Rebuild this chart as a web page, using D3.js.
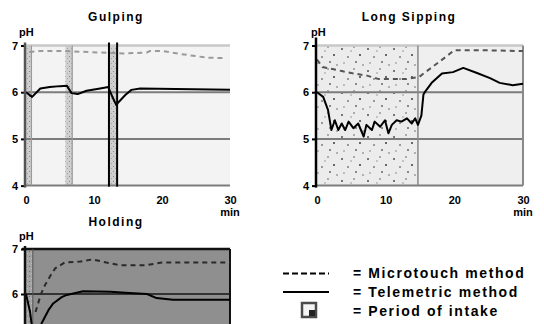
<!DOCTYPE html>
<html><head><meta charset="utf-8">
<script src="https://cdn.jsdelivr.net/npm/d3@7"></script>
<style>
body{margin:0;background:#fff;}
svg{display:block;font-family:"Liberation Sans",Arial,sans-serif;font-weight:bold;}
</style></head><body>
<svg id="c" width="544" height="324"></svg>
<script>
// ---------- data ----------
const xTicks = [0, 10, 20, 30];
const yTicks = [4, 5, 6, 7];
const panelTitles = ["Gulping", "Long Sipping", "Holding"];
const legendLabels = ["= Microtouch method", "= Telemetric method", "= Period of intake"];

const gulpingTelemetric = [[0,6.0],[0.9,5.9],[2.1,6.08],[3.5,6.11],[5.0,6.13],[6.0,6.14],[6.7,5.98],[7.6,5.96],[8.9,6.03],[10.9,6.08],[12.1,6.11],[12.8,5.87],[13.3,5.72],[13.5,5.77],[14.6,5.94],[15.5,6.05],[16.8,6.08],[22,6.07],[30,6.05]];
const gulpingMicrotouch = [[0.5,6.86],[2,6.88],[5.8,6.88],[14.3,6.83],[17.8,6.85],[18.2,6.88],[20.2,6.88],[22.6,6.82],[26.6,6.74],[29.3,6.73]];
const gulpingIntake = [[0,0.8],[5.8,6.8],[12.2,13.4]];

const sippingTelemetric = [[0,6.0],[0.9,5.9],[1.6,5.62],[2.1,5.19],[2.6,5.40],[3.1,5.19],[3.6,5.33],[4.1,5.19],[4.6,5.37],[5.3,5.23],[6.0,5.33],[6.8,5.05],[7.2,5.30],[8.0,5.19],[8.4,5.37],[9.2,5.26],[9.9,5.40],[10.4,5.12],[10.9,5.30],[11.6,5.40],[12.3,5.37],[13.1,5.44],[13.8,5.33],[14.3,5.44],[14.7,5.30],[15.2,5.5],[15.5,5.95],[15.7,6.0],[16.7,6.2],[18.2,6.4],[19.8,6.43],[21.3,6.52],[23.3,6.41],[25.2,6.3],[26.6,6.2],[28.5,6.15],[30,6.18]];
const sippingMicrotouch = [[0,6.7],[0.8,6.54],[5,6.41],[7.4,6.35],[9,6.28],[13,6.28],[14.9,6.33],[16.8,6.54],[18.7,6.75],[20,6.9],[24,6.9],[30,6.88]];
const sippingIntake = [[0,14.7]];

const holdingTelemetric = [[0,6.0],[0.6,5.6],[1.2,4.9],[1.8,5.0],[2.3,5.35],[3.3,5.64],[4.0,5.79],[5.25,5.93],[6.0,5.98],[8.4,6.06],[12.4,6.05],[14.6,6.03],[17.8,6.0],[19.2,5.91],[21.6,5.87],[30,5.87]];
const holdingMicrotouch = [[1.4,5.6],[2.2,6.0],[2.8,6.2],[3.8,6.46],[4.3,6.57],[5.7,6.7],[8,6.72],[9.8,6.77],[11.8,6.7],[13.8,6.64],[17.7,6.64],[20,6.7],[30,6.7]];
const holdingIntake = [[0,1.0]];

// ---------- layout ----------
const svg = d3.select("#c");
const defs = svg.append("defs");

// stipple patterns (texture only)
const p1 = defs.append("pattern").attr("id","bandPat").attr("width",4).attr("height",5).attr("patternUnits","userSpaceOnUse");
p1.append("rect").attr("width",4).attr("height",5).attr("fill","#cfcfcf");
p1.append("rect").attr("x",1).attr("y",1).attr("width",1).attr("height",1).attr("fill","#8a8a8a");
p1.append("rect").attr("x",3).attr("y",3).attr("width",1).attr("height",1).attr("fill","#a5a5a5");

const p2 = defs.append("pattern").attr("id","sipPat").attr("width",26).attr("height",22).attr("patternUnits","userSpaceOnUse");
p2.append("rect").attr("width",26).attr("height",22).attr("fill","#ececec");
[[3,4,"#777"],[15,2,"#aaa"],[9,12,"#999"],[21,10,"#666"],[5,18,"#bbb"],[17,17,"#888"],[12,6,"#c4c4c4"],[24,20,"#b0b0b0"]].forEach(d=>{
  p2.append("rect").attr("x",d[0]).attr("y",d[1]).attr("width",2).attr("height",2).attr("fill",d[2]);
});
const p3 = defs.append("pattern").attr("id","holdPat").attr("width",4).attr("height",5).attr("patternUnits","userSpaceOnUse");
p3.append("rect").attr("width",4).attr("height",5).attr("fill","#a4a4a4");
p3.append("rect").attr("x",1).attr("y",1).attr("width",1).attr("height",1).attr("fill","#6e6e6e");
p3.append("rect").attr("x",3).attr("y",3).attr("width",1).attr("height",1).attr("fill","#c0c0c0");

const panels = [
  {title:panelTitles[0], x0:26, x1:230, yTop:45.5, yBot:185.6, titleX:116, titleY:21, bg:"#f3f3f3",
   tele:gulpingTelemetric, micro:gulpingMicrotouch, intake:gulpingIntake, pat:"url(#bandPat)",
   microColor:"#9a9a9a", grid:"#7c7c7c", top:"#c9c9c9", axis:"#555", showX:true},
  {title:panelTitles[1], x0:317, x1:523, yTop:45.5, yBot:185.6, titleX:409, titleY:21, bg:"#efefef",
   tele:sippingTelemetric, micro:sippingMicrotouch, intake:sippingIntake, pat:"url(#sipPat)",
   microColor:"#555", grid:"#7c7c7c", top:"#c9c9c9", axis:"#000", showX:true},
  {title:panelTitles[2], x0:26, x1:230, yTop:249, yBot:384, titleX:116, titleY:226, bg:"#8f8f8f",
   tele:holdingTelemetric, micro:holdingMicrotouch, intake:holdingIntake, pat:"url(#holdPat)",
   microColor:"#2a2a2a", grid:"#333", top:"#111", axis:"#111", showX:false}
];

panels.forEach((p, i) => {
  const x = d3.scaleLinear().domain([0,30]).range([p.x0, p.x1]);
  const y = d3.scaleLinear().domain([4,7]).range([p.yBot, p.yTop]);
  const g = svg.append("g");

  g.append("rect").attr("x",x(0)).attr("y",y(7)).attr("width",x(30)-x(0)).attr("height",y(4)-y(7)).attr("fill",p.bg);

  // intake periods
  g.selectAll(".intake").data(p.intake).join("rect")
    .attr("x",d=>x(d[0])).attr("y",y(7)).attr("width",d=>x(d[1])-x(d[0])).attr("height",y(4)-y(7))
    .attr("fill",p.pat);

  // horizontal grid
  g.selectAll(".grid").data(yTicks.filter(v=>v<7)).join("line")
    .attr("x1",x(0)).attr("x2",x(30)).attr("y1",d=>y(d)).attr("y2",d=>y(d))
    .attr("stroke",p.grid).attr("stroke-width",2);
  g.append("line").attr("x1",x(0)-(i==2?4:0)).attr("x2",x(30)).attr("y1",y(7)).attr("y2",y(7))
    .attr("stroke",p.top).attr("stroke-width",2.5);

  // intake edges
  if (i === 0) {
    g.selectAll(".edge").data([gulpingIntake[2][0], gulpingIntake[2][1]]).join("line")
      .attr("x1",d=>x(d)).attr("x2",d=>x(d)).attr("y1",y(7)-3).attr("y2",y(4)+1)
      .attr("stroke","#000").attr("stroke-width",2);
    g.selectAll(".edge2").data([gulpingIntake[0][1], gulpingIntake[1][1]]).join("line")
      .attr("x1",d=>x(d)).attr("x2",d=>x(d)).attr("y1",y(7)).attr("y2",y(4))
      .attr("stroke","#9a9a9a").attr("stroke-width",1.2);
  }
  if (i === 1) {
    g.append("line").attr("x1",x(sippingIntake[0][1])).attr("x2",x(sippingIntake[0][1])).attr("y1",y(7)).attr("y2",y(4))
      .attr("stroke","#8a8a8a").attr("stroke-width",1.5);
    g.append("line").attr("x1",x(30)).attr("x2",x(30)).attr("y1",y(7)).attr("y2",y(4))
      .attr("stroke","#8a8a8a").attr("stroke-width",2);
  }
  if (i === 2) {
    g.append("line").attr("x1",x(30)).attr("x2",x(30)).attr("y1",y(7)).attr("y2",324)
      .attr("stroke","#111").attr("stroke-width",2);
    g.append("line").attr("x1",x(holdingIntake[0][1])).attr("x2",x(holdingIntake[0][1])).attr("y1",y(7)).attr("y2",324)
      .attr("stroke","#555").attr("stroke-width",1);
  }

  // lines
  const line = d3.line().x(d=>x(d[0])).y(d=>y(d[1]));
  g.append("path").datum(p.micro).attr("d",line).attr("fill","none")
    .attr("stroke",p.microColor).attr("stroke-width",2).attr("stroke-dasharray","5,4");
  g.append("path").datum(p.tele).attr("d",line).attr("fill","none")
    .attr("stroke","#000").attr("stroke-width",2).attr("stroke-linejoin","round");

  // left axis
  const ya = d3.axisLeft(y).tickValues(i==2?[6,7]:yTicks).tickSize(4).tickPadding(3).tickFormat(d3.format("d"));
  const yg = g.append("g").attr("transform",`translate(${x(0)-1},0)`).call(ya);
  yg.select(".domain").remove();
  yg.selectAll("line").attr("stroke","#000").attr("stroke-width",2);
  yg.selectAll("text").attr("font-size",11).attr("font-weight","bold").attr("fill","#000").attr("font-family","Liberation Sans, Arial, sans-serif");
  g.append("line").attr("x1",x(0)-1).attr("x2",x(0)-1).attr("y1",y(7)-(i==1?8:3)).attr("y2",Math.min(y(4)+2,324))
    .attr("stroke",p.axis).attr("stroke-width",2.5);

  // x axis
  if (p.showX) {
    const xa = d3.axisBottom(x).tickValues(xTicks).tickSize(0).tickPadding(11).tickFormat(d3.format("d"));
    const xg = g.append("g").attr("transform",`translate(0,${y(4)})`).call(xa);
    xg.select(".domain").remove();
    xg.selectAll("text").attr("font-size",11).attr("font-weight","bold").attr("fill","#000").attr("font-family","Liberation Sans, Arial, sans-serif");
    g.append("text").attr("x",x(30)).attr("y",y(4)+30).attr("text-anchor","middle").attr("font-size",11).text("min");
  }

  // pH label and title
  g.append("text").attr("x",x(0)+(i==1?-6:-7)).attr("y",y(7)-(i==2?9:10)).attr("font-size",11).text("pH");
  g.append("text").attr("x",p.titleX).attr("y",p.titleY).attr("text-anchor","middle")
    .attr("font-size",12).attr("letter-spacing","1.5px").text(p.title);
});

// ---------- legend ----------
const lg = svg.append("g");
lg.append("line").attr("x1",283).attr("x2",329).attr("y1",273.5).attr("y2",273.5)
  .attr("stroke","#000").attr("stroke-width",2).attr("stroke-dasharray","6,3");
lg.append("line").attr("x1",283).attr("x2",329).attr("y1",292).attr("y2",292)
  .attr("stroke","#000").attr("stroke-width",2);
lg.append("rect").attr("x",302).attr("y",303).attr("width",14).attr("height",14)
  .attr("fill","#f4f4f4").attr("stroke","#4a4a4a").attr("stroke-width",2.5);
lg.append("rect").attr("x",309).attr("y",310).attr("width",6).attr("height",6).attr("fill","#222");
lg.selectAll(".lt").data(legendLabels).join("text")
  .attr("x",353).attr("y",(d,k)=>278+k*19).attr("font-size",14).attr("letter-spacing","1.6px").text(d=>d);
</script>
</body></html>
